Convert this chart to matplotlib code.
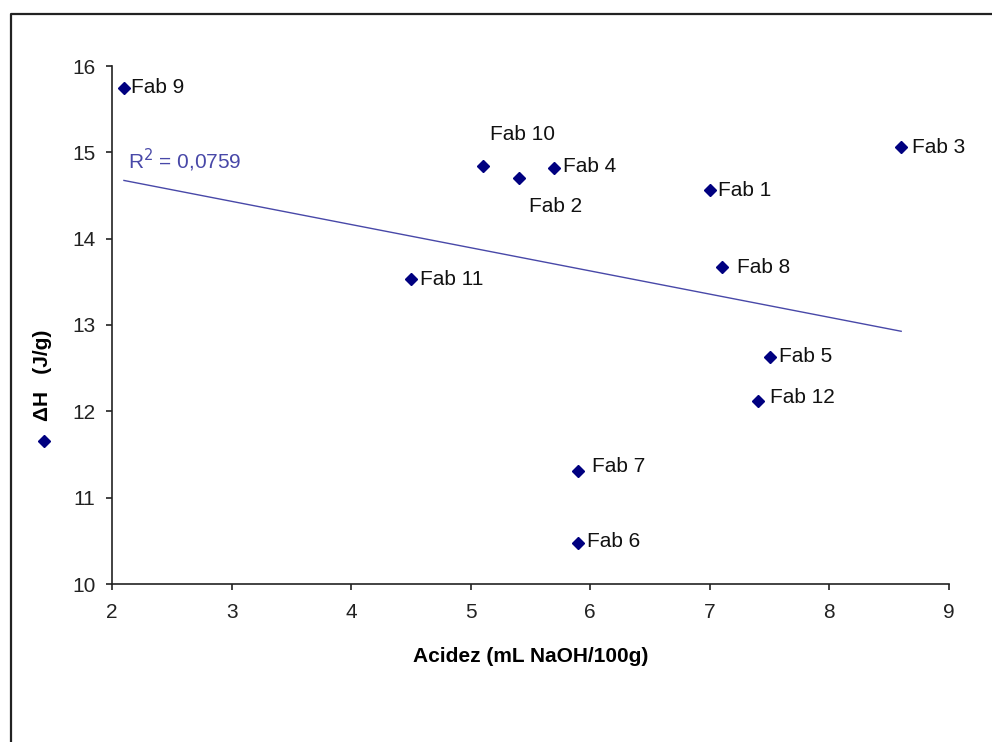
# -*- coding: utf-8 -*-
import numpy as np
import matplotlib
matplotlib.use("Agg")
from matplotlib import pyplot as plt
from matplotlib.lines import Line2D

# data
labels = ["Fab 1", "Fab 2", "Fab 3", "Fab 4", "Fab 5", "Fab 6",
          "Fab 7", "Fab 8", "Fab 9", "Fab 10", "Fab 11", "Fab 12"]
acidez = [7.0, 5.4, 8.6, 5.7, 7.5, 5.9, 5.9, 7.1, 2.1, 5.1, 4.5, 7.4]
delta_h = [14.56, 14.70, 15.06, 14.82, 12.63, 10.47,
           11.31, 13.67, 15.75, 14.84, 13.53, 12.12]
r2_text = "R$^2$ = 0,0759"

# label offsets in pixels (dx, dy) from the marker
offsets = {"Fab 1": (8, 0), "Fab 2": (10, -28), "Fab 3": (11, 0),
           "Fab 4": (9, 1), "Fab 5": (9, 0), "Fab 6": (9, 2),
           "Fab 7": (14, 4), "Fab 8": (15, 0), "Fab 9": (7, 0),
           "Fab 10": (7, 32), "Fab 11": (9, 0), "Fab 12": (12, 3)}

plt.rcParams["font.family"] = ["Liberation Sans", "DejaVu Sans"]
navy = "#000080"
trend_col = "#4848a8"
fs = 15

fig = plt.figure(figsize=(9.92, 7.42), dpi=100)
ax = fig.add_axes([112/992, 1-584/742, (949-112)/992, (584-66)/742])

ax.plot(acidez, delta_h, "D", color=navy, markersize=6, linestyle="none")

# linear trendline over the data range
k, b = np.polyfit(acidez, delta_h, 1)
xs = np.array([min(acidez), max(acidez)])
ax.plot(xs, k*xs+b, color=trend_col, linewidth=1)

px = 72.0/100
for name, x, y in zip(labels, acidez, delta_h):
    dx, dy = offsets[name]
    ax.annotate(name, (x, y), xytext=(dx*px, dy*px), textcoords="offset points",
                ha="left", va="center", fontsize=fs, color="#111111")

ax.text(2.13, 14.91, r2_text, color=trend_col, fontsize=fs, ha="left", va="center")

ax.set_xlim(2, 9)
ax.set_ylim(10, 16)
ax.set_xticks(range(2, 10))
ax.set_yticks(range(10, 17))
ax.spines["top"].set_visible(False)
ax.spines["right"].set_visible(False)
for s in ("left", "bottom"):
    ax.spines[s].set_linewidth(1.2)
    ax.spines[s].set_color("#222222")
ax.tick_params(direction="out", length=4, width=1.2, labelsize=fs,
               colors="#222222")
ax.tick_params(axis="x", pad=10)
ax.tick_params(axis="y", pad=8)

ax.set_xlabel("Acidez (mL NaOH/100g)", fontsize=fs, fontweight="bold", labelpad=18)
fig.text(43/992, 1-375/742, "ΔH   (J/g)", rotation=90, fontsize=fs,
         fontweight="bold", ha="center", va="center")
fig.add_artist(Line2D([44/992], [1-441/742], marker="D", color=navy,
                      markersize=6, linestyle="none"))

# chart frame (only top and left edges are visible)
fig.add_artist(Line2D([11/992, 11/992, 1.0], [0.0, 1-14/742, 1-14/742],
                      color="#222222", linewidth=1.6))

fig.savefig("out.png", dpi=100)
